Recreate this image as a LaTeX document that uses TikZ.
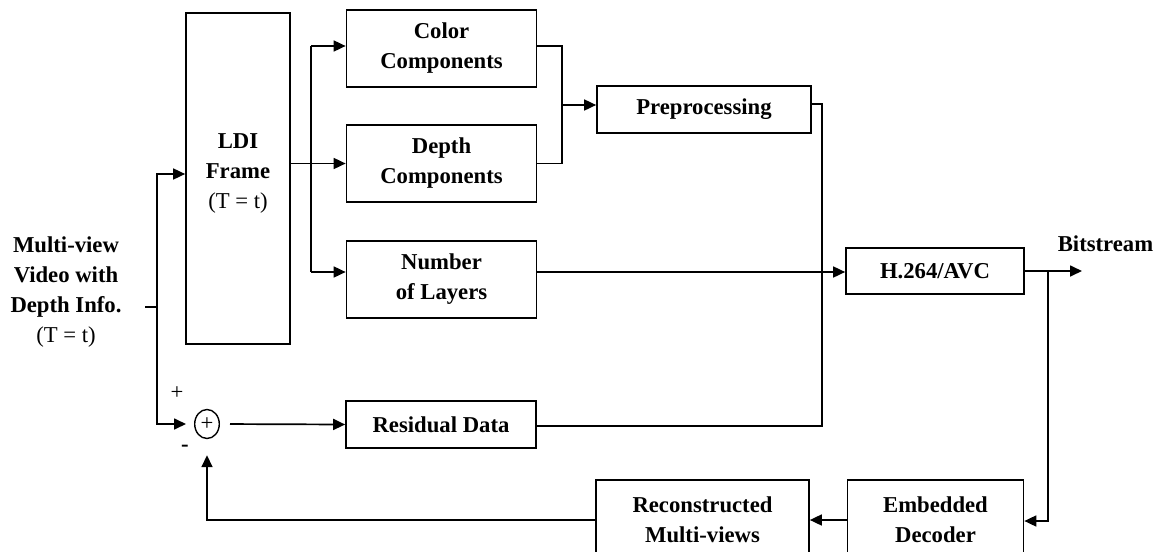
\documentclass[tikz,border=0pt]{standalone}
\usepackage{fontspec}
\setmainfont{Liberation Serif}
\usetikzlibrary{arrows.meta,shapes.geometric}
\begin{document}
\begin{tikzpicture}[x=0.5pt,y=-0.5pt,
  box/.style={draw,line width=0.85pt,inner sep=0pt,align=center,font=\fontsize{11.35}{15}\selectfont\bfseries},
  lbl/.style={inner sep=0pt,align=center,font=\fontsize{11.35}{15}\selectfont\bfseries},
  ln/.style={line width=0.85pt},
  arr/.style={line width=0.85pt,-{Triangle[length=6pt,width=5.5pt]}},
]
\clip (0,0) rectangle (1158,552);
\fill[white] (0,0) rectangle (1158,552);

% boxes
\node[box,minimum width=52pt,minimum height=165.5pt] (ldi) at (238,178.5) {};
\node[lbl] (ldit) at (238,173) {LDI\\Frame\\{\mdseries (T = t)}};
\node[box,minimum width=95pt,minimum height=38.5pt] (color) at (441.5,48.5) {Color\\Components};
\node[box,minimum width=95pt,minimum height=38.5pt] (depth) at (441.5,163.5) {Depth\\Components};
\node[box,minimum width=95pt,minimum height=38.5pt] (number) at (441.5,279.5) {Number\\of Layers};
\node[box,minimum width=107pt,minimum height=23.5pt] (pre) at (704,109.5) {Preprocessing};
\node[box,minimum width=89pt,minimum height=23pt] (h264) at (935,271) {H.264/AVC};
\node[box,minimum width=95pt,minimum height=23.5pt] (resid) at (441,424.5) {Residual Data};
\node[box,minimum width=106.5pt,minimum height=40pt] (recon) at (702.5,520) {Reconstructed\\Multi-views};
\node[box,minimum width=88pt,minimum height=40pt] (embed) at (935.5,520) {Embedded\\Decoder};
\node[draw,ellipse,line width=0.7pt,minimum width=12.3pt,minimum height=14.5pt,inner sep=0pt,
      font=\fontsize{11.35}{13}\selectfont] (sum) at (207,424) {+};

% labels
\node[lbl] (input) at (66,292) {Multi-view\\Video with\\Depth Info.\\{\mdseries (T = t)}};
\node[lbl,anchor=base] (bits) at (1105.5,251) {Bitstream};
\node[inner sep=0pt,font=\fontsize{11.35}{13}\selectfont] (plus) at (177,393) {+};
\node[inner sep=0pt,font=\fontsize{11.35}{13}\selectfont\bfseries] (minus) at (185,448) {-};

% coordinates
\coordinate (stub) at (145,307);
\coordinate (split) at (157,307);
\coordinate (bt) at (311,46);
\coordinate (bb) at (311,272);
\coordinate (m) at (562,105);
\coordinate (m2) at (822,104);
\coordinate (r) at (822,426);
\coordinate (o) at (1048,271);
\coordinate (bs) at (1082,271);
\coordinate (d) at (1048,521);

% connectors
\draw[ln] (stub) -- (split);
\draw[arr] (split) |- ([yshift=2.25pt]ldi.west);
\draw[arr,shorten >=4pt] (split) |- (sum.west);
\draw[arr] (ldi.east |- depth.west) -- (depth.west);
\draw[ln] (bt) -- (bb);
\draw[arr] (bt) -- (bt -| color.west);
\draw[arr] (bb) -- (bb -| number.west);
\draw[arr] (number.east |- bb) -- (bb -| h264.west);
\draw[ln] (color.east |- bt) -| (m) |- (depth.east);
\draw[arr] (m) -- (m -| pre.west);
\draw[ln] (pre.east |- m2) -- (m2) -- (r) -- (r -| resid.east);
\draw[arr] (h264.east |- o) -- (bs);
\draw[arr] (o) -- (d) -- (d -| embed.east);
\draw[arr] (embed.west) -- (recon.east);
\draw[arr,shorten >=8pt] (recon.west) -| (sum.south);
\draw[arr,shorten <=5pt] (sum.east) -- (resid.west);
\end{tikzpicture}
\end{document}
